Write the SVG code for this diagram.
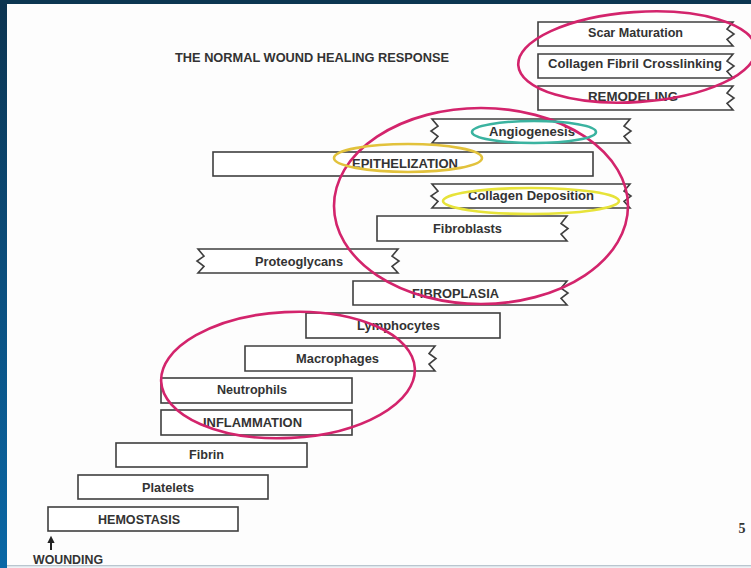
<svg xmlns="http://www.w3.org/2000/svg" width="751" height="568" viewBox="0 0 751 568">
<style>
.box{fill:#ffffff;stroke:#3f3f3f;stroke-width:1.6;stroke-linejoin:miter}
.lbl{font-family:"Liberation Sans",Arial,sans-serif;font-weight:bold;font-size:12px;fill:#333333;text-anchor:middle}
.ring{fill:none;stroke-width:2.6}
.mag{stroke:#d3246c}
.teal{stroke:#3bb3a0}
.gold{stroke:#e2c23c}
.yel{stroke:#e7e33a}
</style>
<defs>
<linearGradient id="side" x1="0" y1="0" x2="0" y2="1">
<stop offset="0" stop-color="#0c3450"/>
<stop offset="0.5" stop-color="#0b4f7e"/>
<stop offset="1" stop-color="#0a68a6"/>
</linearGradient>
<marker id="ah" viewBox="0 0 10 10" refX="4" refY="5" markerWidth="4" markerHeight="3.6" orient="auto">
<path d="M0 0 L10 5 L0 10 Z" fill="#222"/>
</marker>
</defs>

<!-- slide background -->
<rect x="0" y="0" width="751" height="568" fill="#fdfdfd"/>
<rect x="0" y="566" width="751" height="2" fill="#eef3f6"/>
<rect x="0" y="565" width="751" height="1.3" fill="#b9c6cf"/>
<rect x="0" y="0" width="7" height="568" fill="url(#side)"/>
<rect x="0" y="0" width="751" height="4" fill="#0c3651"/>

<text class="lbl" x="312" y="62" textLength="274" lengthAdjust="spacingAndGlyphs">THE NORMAL WOUND HEALING RESPONSE</text>

<g id="scar-maturation"><path class="box" d="M538 22 H733 L727 29.2 L734 34 L727 39.3 L733 46 H538 Z"/><text class="lbl" x="635.5" y="37" textLength="95" lengthAdjust="spacingAndGlyphs">Scar Maturation</text></g>
<g id="collagen-fibril-crosslinking"><path class="box" d="M538 54 H733 L727 61.2 L734 66 L727 71.3 L733 78 H538 Z"/><text class="lbl" x="635" y="68" textLength="174" lengthAdjust="spacingAndGlyphs">Collagen Fibril Crosslinking</text></g>
<g id="remodeling"><path class="box" d="M538 86 H733 L727 93.2 L734 98 L727 103.3 L733 110 H538 Z"/><text class="lbl" x="633" y="101" textLength="90" lengthAdjust="spacingAndGlyphs">REMODELING</text></g>
<g id="angiogenesis"><path class="box" d="M432 119 H630 L624 126.2 L631 131 L624 136.3 L630 143 H432 L438 136.3 L431 131 L438 126.2 Z"/><text class="lbl" x="532" y="136" textLength="86" lengthAdjust="spacingAndGlyphs">Angiogenesis</text></g>
<g id="epithelization"><rect class="box" x="213" y="152" width="380" height="24"/><text class="lbl" x="405" y="168" textLength="106" lengthAdjust="spacingAndGlyphs">EPITHELIZATION</text></g>
<g id="collagen-deposition"><path class="box" d="M432 184 H630 L624 191.2 L631 196 L624 201.3 L630 208 H432 L438 201.3 L431 196 L438 191.2 Z"/><text class="lbl" x="531" y="200" textLength="126" lengthAdjust="spacingAndGlyphs">Collagen Deposition</text></g>
<g id="fibroblasts"><path class="box" d="M377 216 H567 L561 223.5 L568 228.5 L561 234 L567 241 H377 Z"/><text class="lbl" x="467.5" y="233" textLength="69" lengthAdjust="spacingAndGlyphs">Fibroblasts</text></g>
<g id="proteoglycans"><path class="box" d="M198 249 H398 L392 256.2 L399 261 L392 266.3 L398 273 H198 L204 266.3 L197 261 L204 256.2 Z"/><text class="lbl" x="299" y="266" textLength="88" lengthAdjust="spacingAndGlyphs">Proteoglycans</text></g>
<g id="fibroplasia"><path class="box" d="M353 281 H567 L561 288.2 L568 293 L561 298.3 L567 305 H353 Z"/><text class="lbl" x="455.5" y="298" textLength="87" lengthAdjust="spacingAndGlyphs">FIBROPLASIA</text></g>
<g id="lymphocytes"><rect class="box" x="306" y="313" width="194" height="25"/><text class="lbl" x="398.5" y="330" textLength="83" lengthAdjust="spacingAndGlyphs">Lymphocytes</text></g>
<g id="macrophages"><path class="box" d="M245 346 H435 L429 353.5 L436 358.5 L429 364 L435 371 H245 Z"/><text class="lbl" x="337.5" y="363" textLength="83" lengthAdjust="spacingAndGlyphs">Macrophages</text></g>
<g id="neutrophils"><rect class="box" x="161" y="378" width="191" height="25"/><text class="lbl" x="252" y="394" textLength="70" lengthAdjust="spacingAndGlyphs">Neutrophils</text></g>
<g id="inflammation"><rect class="box" x="161" y="410" width="191" height="25"/><text class="lbl" x="252.5" y="427" textLength="99" lengthAdjust="spacingAndGlyphs">INFLAMMATION</text></g>
<g id="fibrin"><rect class="box" x="116" y="443" width="191" height="24"/><text class="lbl" x="206.5" y="459" textLength="35" lengthAdjust="spacingAndGlyphs">Fibrin</text></g>
<g id="platelets"><rect class="box" x="78" y="475" width="190" height="24"/><text class="lbl" x="168" y="492" textLength="52" lengthAdjust="spacingAndGlyphs">Platelets</text></g>
<g id="hemostasis"><rect class="box" x="48" y="507" width="190" height="24"/><text class="lbl" x="139" y="524" textLength="82" lengthAdjust="spacingAndGlyphs">HEMOSTASIS</text></g>

<g id="wounding"><text class="lbl" x="68" y="564" textLength="70" lengthAdjust="spacingAndGlyphs">WOUNDING</text></g>

<g id="connectors">
<line x1="51" y1="550" x2="51" y2="540" stroke="#222" stroke-width="2" marker-end="url(#ah)"/>
</g>

<g id="highlights">
<ellipse class="ring mag" cx="637" cy="57" rx="119" ry="45" transform="rotate(-4 637 57)"/>
<ellipse class="ring mag" cx="481" cy="206" rx="147" ry="98"/>
<ellipse class="ring mag" cx="288" cy="375" rx="127" ry="63" transform="rotate(-3 288 375)"/>
<ellipse class="ring teal" cx="534" cy="132" rx="62" ry="11"/>
<ellipse class="ring gold" cx="408" cy="158" rx="74" ry="14"/>
<ellipse class="ring yel" cx="531" cy="201" rx="88" ry="13"/>
</g>

<text x="742" y="533" font-family="'Liberation Serif','Times New Roman',serif" font-weight="bold" font-size="14" fill="#333" text-anchor="middle">5</text>
</svg>
